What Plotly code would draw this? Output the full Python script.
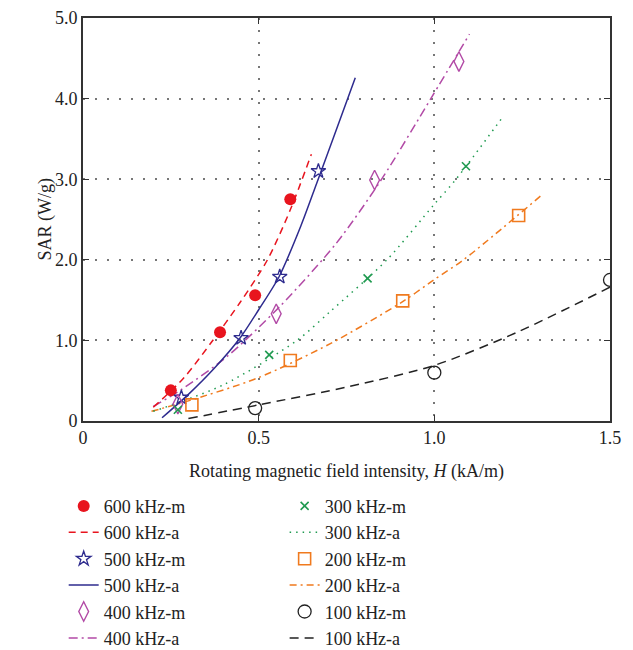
import plotly.graph_objects as go

# measured points
H600_m = [0.25, 0.39, 0.49, 0.59]
S600_m = [0.38, 1.10, 1.56, 2.75]
H500_m = [0.28, 0.45, 0.56, 0.67]
S500_m = [0.29, 1.03, 1.79, 3.10]
H400_m = [0.27, 0.55, 0.83, 1.07]
S400_m = [0.21, 1.33, 2.99, 4.46]
H300_m = [0.27, 0.53, 0.81, 1.09]
S300_m = [0.14, 0.82, 1.77, 3.16]
H200_m = [0.31, 0.59, 0.91, 1.24]
S200_m = [0.20, 0.75, 1.49, 2.55]
H100_m = [0.49, 1.00, 1.50]
S100_m = [0.16, 0.60, 1.75]

# analytical curves
H600_a = [0.20, 0.286, 0.366, 0.447, 0.525, 0.59, 0.65]
S600_a = [0.17, 0.53, 0.98, 1.47, 2.00, 2.62, 3.31]
H500_a = [0.225, 0.30, 0.375, 0.447, 0.50, 0.558, 0.62, 0.666, 0.72, 0.775]
S500_a = [0.04, 0.33, 0.66, 1.03, 1.38, 1.79, 2.42, 2.96, 3.60, 4.26]
H400_a = [0.20, 0.28, 0.41, 0.56, 0.72, 0.85, 0.99, 1.10]
S400_a = [0.18, 0.39, 0.80, 1.42, 2.20, 3.00, 4.00, 4.80]
H300_a = [0.20, 0.40, 0.609, 0.704, 0.865, 0.998, 1.06, 1.196]
S300_a = [0.12, 0.45, 1.00, 1.36, 2.00, 2.68, 2.99, 3.78]
H200_a = [0.195, 0.30, 0.495, 0.704, 0.913, 0.998, 1.083, 1.302]
S200_a = [0.12, 0.25, 0.53, 0.96, 1.49, 1.75, 2.00, 2.79]
H100_a = [0.30, 0.50, 0.76, 1.00, 1.235, 1.50]
S100_a = [0.03, 0.20, 0.43, 0.69, 1.10, 1.66]

x_ticks = [0, 0.5, 1.0, 1.5]
x_ticktext = ["0", "0.5", "1.0", "1.5"]
y_ticks = [0, 1, 2, 3, 4, 5]
y_ticktext = ["0", "1.0", "2.0", "3.0", "4.0", "5.0"]

FONT = "Liberation Serif"
RED = "#e8141e"
NAVY = "#2e2b8e"
MAG = "#b24aa6"
GREEN = "#1f9a50"
ORANGE = "#f07a1e"
BLACK = "#222222"

fig = go.Figure()

def mtrace(x, y, name, symbol, color, size, legend, lw=1.6):
    fig.add_trace(go.Scatter(
        x=x, y=y, mode="markers", name=name, legend=legend,
        marker=dict(symbol=symbol, size=size, color=color,
                    line=dict(color=color, width=lw)),
    ))

def ltrace(x, y, name, color, dash, legend, width=1.5):
    fig.add_trace(go.Scatter(
        x=x, y=y, mode="lines", name=name, legend=legend,
        line=dict(color=color, dash=dash, width=width, shape="spline", smoothing=0.8),
    ))

# lines first (drawn under markers)
ltrace(H100_a, S100_a, "100 kHz-a", BLACK, "9px,6px", "legend2")
ltrace(H200_a, S200_a, "200 kHz-a", ORANGE, "7px,4px,2px,4px", "legend2")
ltrace(H300_a, S300_a, "300 kHz-a", GREEN, "1.5px,5px", "legend2")
ltrace(H400_a, S400_a, "400 kHz-a", MAG, "9px,4px,2px,4px", "legend")
ltrace(H500_a, S500_a, "500 kHz-a", NAVY, "solid", "legend")
ltrace(H600_a, S600_a, "600 kHz-a", RED, "7px,5px", "legend")

mtrace(H600_m, S600_m, "600 kHz-m", "circle", RED, 12, "legend", lw=0)
mtrace(H500_m, S500_m, "500 kHz-m", "star-open", NAVY, 11, "legend", lw=1.3)
mtrace(H400_m, S400_m, "400 kHz-m", "diamond-tall-open", MAG, 14, "legend", lw=1.4)
mtrace(H300_m, S300_m, "300 kHz-m", "x-thin-open", GREEN, 8, "legend2", lw=1.6)
mtrace(H200_m, S200_m, "200 kHz-m", "square-open", ORANGE, 12, "legend2", lw=1.6)
mtrace(H100_m, S100_m, "100 kHz-m", "circle-open", BLACK, 13, "legend2", lw=1.3)

axis_common = dict(
    showline=True, linecolor="#333333", linewidth=1.6, mirror="ticks",
    ticks="inside", ticklen=6, tickwidth=1.4, tickcolor="#333333",
    showgrid=True, gridcolor="#777777", griddash="2px,10px", gridwidth=1.5,
    zeroline=False, tickfont=dict(family=FONT, size=18, color="#222"),
    title_font=dict(family=FONT, size=18, color="#222"),
)

legend_common = dict(
    xref="container", yref="container", xanchor="left", yanchor="top",
    bgcolor="rgba(0,0,0,0)", font=dict(family=FONT, size=18, color="#222"),
    traceorder="normal", itemwidth=30,
)

# page body keeps its default 8px margin, so the figure is 8px smaller
W, Hh = 625, 642
fig.update_layout(
    width=W, height=Hh,
    margin=dict(l=75, r=23, t=10, b=229, autoexpand=False),
    paper_bgcolor="white", plot_bgcolor="white",
    font=dict(family=FONT, size=18, color="#222"),
    xaxis=dict(range=[0, 1.5], tickvals=x_ticks, ticktext=x_ticktext,
               title=dict(text="Rotating magnetic field intensity, <i>H</i> (kA/m)", standoff=17),
               **axis_common),
    yaxis=dict(range=[0, 5.0], tickvals=y_ticks, ticktext=y_ticktext,
               **axis_common),
    legend=dict(x=0.0891, y=0.2528, **legend_common),
    legend2=dict(x=0.4426, y=0.2528, **legend_common),
    showlegend=True,
    annotations=[dict(text="SAR (W/g)", textangle=-90, xref="paper", yref="paper",
                      x=-0.072, y=0.5, xanchor="center", yanchor="middle",
                      showarrow=False, font=dict(family=FONT, size=18, color="#222"))],
)

ranks = {"600 kHz-m": 1, "600 kHz-a": 2, "500 kHz-m": 3, "500 kHz-a": 4,
         "400 kHz-m": 5, "400 kHz-a": 6, "300 kHz-m": 1, "300 kHz-a": 2,
         "200 kHz-m": 3, "200 kHz-a": 4, "100 kHz-m": 5, "100 kHz-a": 6}
for tr in fig.data:
    tr.legendrank = ranks[tr.name]

fig.write_html("out.html")
